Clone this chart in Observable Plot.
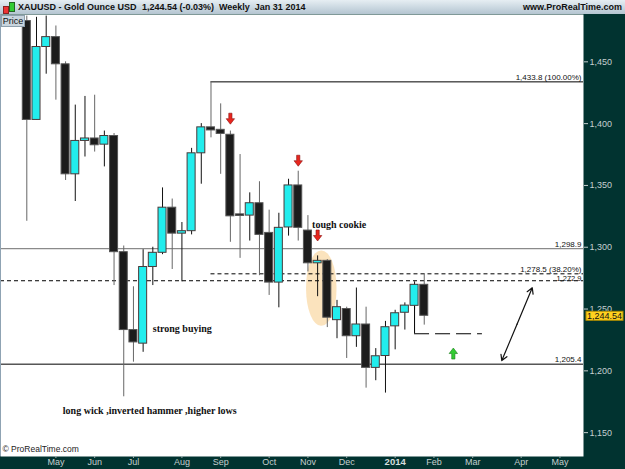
<!DOCTYPE html>
<html><head><meta charset="utf-8">
<script src="https://cdn.jsdelivr.net/npm/d3@7"></script>
<script src="https://cdn.jsdelivr.net/npm/@observablehq/plot@0.6"></script>
<style>
html,body{margin:0;padding:0;background:#013330;}
#wrap{position:relative;width:625px;height:469px;overflow:hidden;background:#013330;}
#hdr{position:relative;height:14px;background:linear-gradient(#e6eef3,#b4c5d1);font:bold 9px "Liberation Sans",Arial,sans-serif;color:#111;white-space:nowrap;line-height:14px;}
#hdr span{position:absolute;top:0;}
#icon1{position:absolute;left:3px;top:6px;width:4px;height:6px;background:#e33;border:1px solid #822;}
#icon2{position:absolute;left:9px;top:2px;width:4px;height:8px;background:#3c3;border:1px solid #262;}
#price{position:absolute;left:1px;top:15px;width:22px;height:10px;background:#c9d5de;border:1px solid #8ea0ad;font:9px "Liberation Sans",Arial,sans-serif;line-height:10px;text-align:center;color:#111;z-index:2;}
#lborder{position:absolute;left:0;top:14px;width:1px;height:442px;background:#8fa3b3;z-index:2;}
#chart svg{display:block;}
</style></head>
<body>
<div id="wrap">
  <div id="hdr"><div id="icon1"></div><div id="icon2"></div>
    <span style="left:18px">XAUUSD - Gold Ounce USD</span>
    <span style="left:142px">1,244.54 (-0.03%)</span>
    <span style="left:219px">Weekly&nbsp; Jan 31 2014</span>
    <span style="right:3px">www.ProRealTime.com</span>
  </div>
  <div id="price">Price</div>
  <div id="lborder"></div>
  <div id="chart"></div>
</div>
<script>
// ---- data ----
const dates = ["2013-04-15","2013-04-22","2013-04-29","2013-05-06","2013-05-13","2013-05-20","2013-05-27","2013-06-03","2013-06-10","2013-06-17","2013-06-24","2013-07-01","2013-07-08","2013-07-15","2013-07-22","2013-07-29","2013-08-05","2013-08-12","2013-08-19","2013-08-26","2013-09-02","2013-09-09","2013-09-16","2013-09-23","2013-09-30","2013-10-07","2013-10-14","2013-10-21","2013-10-28","2013-11-04","2013-11-11","2013-11-18","2013-11-25","2013-12-02","2013-12-09","2013-12-16","2013-12-23","2013-12-30","2014-01-06","2014-01-13","2014-01-20","2014-01-27"];
const open  = [1483,1403,1462,1470,1448,1359,1386,1388,1383,1390,1296,1233,1222,1284,1295.5,1332,1311,1313,1376,1397,1395,1391,1325.7,1325.6,1335.6,1311.6,1271.4,1316,1350,1313.5,1287,1289,1241,1250,1228,1237.5,1202.4,1212,1236,1247,1252.6,1269.6];
const high  = [1487,1486,1487,1479,1450,1415,1422,1423,1394,1392,1301,1268,1298,1300,1348,1339,1320,1380,1400,1433.8,1416,1394,1375,1344,1353,1330,1327.5,1355,1361.5,1325.6,1293,1290,1257,1251.5,1267,1251.5,1218,1240,1249,1255,1272,1278.5];
const low   = [1321,1403,1440,1419,1354,1337,1373,1377,1365,1269,1179,1207,1215,1269,1294,1282,1272,1310,1351,1388.5,1359,1304,1291,1305,1277,1261,1251,1309,1305,1280,1260,1235,1226,1210,1219,1186,1192,1182,1217,1233,1249,1237];
const close = [1403,1462,1470,1448,1359,1386,1388,1382.5,1390,1296,1233,1223,1284,1295.5,1332,1311,1313,1376,1397,1394.5,1391.7,1325,1325.3,1335.6,1310,1271.4,1315.7,1350,1315.7,1287,1289,1243,1251.5,1228,1237.5,1202.4,1211.8,1235.3,1246.6,1252.8,1269.6,1244.54];

const yTicks = [1150,1200,1250,1300,1350,1400,1450];
const monthDates  = ["2013-05-06","2013-06-03","2013-07-01","2013-08-05","2013-09-02","2013-10-07","2013-11-04","2013-12-02","2014-01-06","2014-02-03","2014-03-03","2014-04-07","2014-05-05"];
const monthLabels = ["May","Jun","Jul","Aug","Sep","Oct","Nov","Dec","2014","Feb","Mar","Apr","May"];

const levelValues = [1433.8,1298.9,1278.5,1272.9,1205.4];
const levelLabels = ["1,433.8 (100.00%)","1,298.9","1,278.5 (38.20%)","1,272.9","1,205.4"];
const levelStart  = ["2013-08-26",null,"2013-08-26",null,null];

const redArrowDates = ["2013-09-09","2013-10-28","2013-11-11"];
const redArrowValues = [1404,1370,1309.5];
const greenArrowDates = ["2014-02-17"];
const greenArrowValues = [1214];

const noteTexts  = ["long wick ,inverted hammer ,higher lows","strong buying","tough cookie"];
const noteDates  = ["2013-05-11","2013-07-15","2013-11-07"];
const noteValues = [1168,1234,1318];

const supportFrom = {date:"2014-01-20", top:1252, level:1230, end:"2014-03-10"};
const targetArrow = {d1:"2014-03-24", v1:1208.3, d2:"2014-04-15", v2:1267.2};
const highlight = {d1:"2013-11-03", d2:"2013-11-25", v1:1236, v2:1297};
const lastPrice = close[close.length-1];

// ---- build ----
const D = s => new Date(s + "T00:00:00Z");
const DAY = 864e5;
const candles = dates.map((d,i)=>{
  const lo = Math.min(open[i],close[i]), hi = Math.max(open[i],close[i]);
  return {date:D(d), open:open[i], high:high[i], low:low[i], close:close[i],
          b1:lo, b2:Math.max(hi, lo+1.3), up: close[i] >= open[i]};
});
const up = candles.filter(d=>d.up), down = candles.filter(d=>!d.up);
const xStart = D("2013-03-27"), xEnd = D("2014-05-22");
const levels = levelValues.map((v,i)=>({y:v, label:levelLabels[i], x1: levelStart[i] ? D(levelStart[i]) : xStart, x2:xEnd}));
const months = monthDates.map((d,i)=>({x:D(d), label:monthLabels[i]}));
const notes = noteTexts.map((t,i)=>({x:D(noteDates[i]), y:noteValues[i], text:t}));
const redArrows = redArrowDates.map((d,i)=>({x:D(d), y:redArrowValues[i]}));
const greenArrows = greenArrowDates.map((d,i)=>({x:D(d), y:greenArrowValues[i]}));

const downSym = {draw(ctx){ctx.moveTo(-1.6,-5.5);ctx.lineTo(1.6,-5.5);ctx.lineTo(1.6,0);ctx.lineTo(4.2,0);ctx.lineTo(0,5.5);ctx.lineTo(-4.2,0);ctx.lineTo(-1.6,0);ctx.closePath();}};
const upSym = {draw(ctx){ctx.moveTo(-1.6,5.5);ctx.lineTo(1.6,5.5);ctx.lineTo(1.6,0);ctx.lineTo(4.2,0);ctx.lineTo(0,-5.5);ctx.lineTo(-4.2,0);ctx.lineTo(-1.6,0);ctx.closePath();}};

const bx1 = d => new Date(+d.date - 2.9*DAY), bx2 = d => new Date(+d.date + 2.9*DAY);
const tMid = new Date((+D(targetArrow.d1) + +D(targetArrow.d2))/2), vMid = (targetArrow.v1+targetArrow.v2)/2;
const serif = "Liberation Serif, Times New Roman, serif";
const dyLevel = d => d.y === 1272.9 ? -3 : -4.5;

const plot = Plot.plot({
  width: 625, height: 455,
  marginTop: 0, marginBottom: 13, marginLeft: 0, marginRight: 42,
  style: {background: "#013330", fontFamily: "Liberation Sans, Arial, sans-serif"},
  x: {type: "utc", domain: [xStart, xEnd]},
  y: {domain: [1130.7, 1488.3]},
  marks: [
    Plot.frame({fill: "white", stroke: null}),
    Plot.rect([highlight], {x1: d=>D(d.d1), x2: d=>D(d.d2), y1:"v1", y2:"v2", rx: 15, ry: 37, fill: "#f9d49a", fillOpacity: 0.65}),
    Plot.ruleY(levels.filter(d=>d.y===1298.9), {y:"y", x1:"x1", x2:"x2", stroke:"#8a8a8a", strokeWidth:1.3}),
    Plot.ruleY(levels.filter(d=>d.y===1433.8 || d.y===1205.4), {y:"y", x1:"x1", x2:"x2", stroke:"#000", strokeWidth:1}),
    Plot.ruleY(levels.filter(d=>d.y===1278.5 || d.y===1272.9), {y:"y", x1:"x1", x2:"x2", stroke:"#000", strokeWidth:1, strokeDasharray:"4,3"}),
    Plot.text(levels.filter(d=>d.y!==1272.9), {x:"x2", y:"y", text:"label", textAnchor:"end", dx:-2, dy:-4.5, fontSize:8, fill:"#111"}),
    Plot.text(levels.filter(d=>d.y===1272.9), {x:"x2", y:"y", text:"label", textAnchor:"end", dx:-2, dy:-2.5, fontSize:7.5, fill:"#111"}),
    Plot.ruleX(down, {x:"date", y1:"low", y2:"high", stroke:"#666", strokeWidth:1}),
    Plot.ruleX(up, {x:"date", y1:"low", y2:"high", stroke:"#111", strokeWidth:1}),
    Plot.rect(down, {x1:bx1, x2:bx2, y1:"b1", y2:"b2", fill:"#1c1c1c", stroke:"#555", strokeWidth:1}),
    Plot.rect(up, {x1:bx1, x2:bx2, y1:"b1", y2:"b2", fill:"#22eded", stroke:"#4a3a3a", strokeWidth:1}),
    Plot.ruleX([supportFrom], {x:d=>D(d.date), y1:"level", y2:"top", stroke:"#000"}),
    Plot.ruleY([supportFrom], {y:"level", x1:d=>D(d.date), x2:d=>D(d.end), stroke:"#000", strokeDasharray:"15,6"}),
    Plot.dot(redArrows, {x:"x", y:"y", symbol: downSym, fill:"#e8261e", stroke:"#8a1010", strokeWidth:0.6}),
    Plot.dot(greenArrows, {x:"x", y:"y", symbol: upSym, fill:"#33cc33", stroke:"#1a7a1a", strokeWidth:0.6}),
    Plot.arrow([targetArrow], {x1:()=>tMid, y1:()=>vMid, x2:d=>D(d.d1), y2:"v1", stroke:"#111", strokeWidth:1.2, headLength:8}),
    Plot.arrow([targetArrow], {x1:()=>tMid, y1:()=>vMid, x2:d=>D(d.d2), y2:"v2", stroke:"#111", strokeWidth:1.2, headLength:8}),
    Plot.text(notes, {x:"x", y:"y", text:"text", textAnchor:"start", fontFamily: serif, fontWeight:"bold", fontSize:10, fill:"#111"}),
    Plot.text(["© ProRealTime.com"], {frameAnchor:"bottom-left", dx:2, dy:-5, fontSize:8.5, fill:"#222"}),
    Plot.axisY({anchor:"right", ticks:yTicks, tickFormat:d3.format(","), tickSize:4, tickPadding:2, color:"#c5cfcf", fontSize:9, label:null}),
    Plot.axisX({ticks:months.map(d=>d.x), tickFormat:()=>"", tickSize:2, color:"#9fb0b0", label:null}),
    Plot.text(months.filter(d=>d.label!=="2014"), {x:"x", text:"label", frameAnchor:"bottom", dy:8, fill:"#c5cfcf", fontSize:9}),
    Plot.text(months.filter(d=>d.label==="2014"), {x:"x", text:"label", frameAnchor:"bottom", dy:8, fill:"#d5dede", fontSize:9.5, fontWeight:"bold"}),
    (index, scales, values, dims) => {
      const y = scales.y(lastPrice);
      const x0 = dims.width - dims.marginRight + 3;
      const g = d3.create("svg:g");
      g.append("rect").attr("x", x0).attr("y", y-4).attr("width", 37).attr("height", 9).attr("fill", "#ffd21f").attr("stroke", "#b08c00");
      g.append("text").attr("x", x0+18.5).attr("y", y+3.6).attr("text-anchor","middle").attr("font-size", 9).attr("fill","#111").text(d3.format(",.2f")(lastPrice));
      return g.node();
    }
  ]
});
document.getElementById("chart").appendChild(plot);
</script>
</body></html>
